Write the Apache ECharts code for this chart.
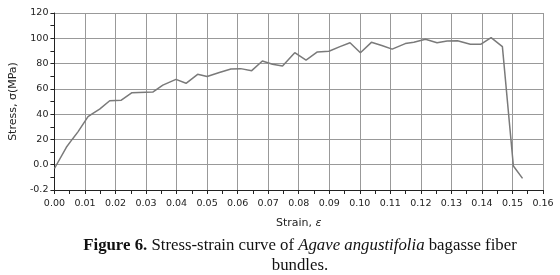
<!DOCTYPE html>
<html>
<head>
<meta charset="utf-8">
<script src="https://cdn.jsdelivr.net/npm/echarts@6/dist/echarts.min.js"></script>
<style>
  html, body { margin: 0; padding: 0; background: #fff; }
  #main { width: 560px; height: 275px; }
</style>
</head>
<body>
<div id="main"></div>
<script>
// strain values (x)
const strain = [
  0.0000, 0.0039, 0.0058, 0.0077, 0.0110, 0.0126, 0.0148, 0.0181, 0.0219, 0.0254,
  0.0322, 0.0355, 0.0398, 0.0431, 0.0469, 0.0500, 0.0540, 0.0578, 0.0610, 0.0646,
  0.0681, 0.0714, 0.0747, 0.0787, 0.0824, 0.0861, 0.0899, 0.0935, 0.0968, 0.1002,
  0.1038, 0.1072, 0.1106, 0.1149, 0.1177, 0.1215, 0.1253, 0.1286, 0.1320, 0.1362,
  0.1397, 0.1430, 0.1467, 0.1503, 0.1533
];
// stress in MPa
const stress = [
  -3, 13.8, 20, 26, 38, 40.6, 44, 50.6, 51, 57,
  57.5, 63, 67.5, 64.4, 71.5, 69.8, 73, 75.7, 76, 74.4,
  82, 79.5, 78, 88.6, 82.8, 89.2, 89.7, 93.4, 96.5, 88.6,
  96.8, 94.3, 91.4, 95.8, 96.8, 99.2, 96.5, 97.8, 98, 95.3,
  95.3, 100.5, 93.4, -1, -10.8
];
// y ticks and the (odd) labels printed in the figure
const yTicks = [-20, 0, 20, 40, 60, 80, 100, 120];
const yTickLabels = ['-0.2', '0.0', '20', '40', '60', '80', '100', '120'];

const tickFont = 'DejaVu Sans';
const capFont = 'Liberation Serif';
let myChart = echarts.init(document.getElementById('main'));

myChart.setOption({
  animation: false,
  title: {
    text: '{b|Figure 6.}{n| Stress-strain curve of }{i|Agave angustifolia}{n| bagasse fiber}\n{n|bundles.}',
    left: 295,
    top: 231,
    textAlign: 'center',
    textStyle: {
      fontWeight: 'normal',
      rich: {
        b: { fontFamily: capFont, fontWeight: 'bold', fontSize: 16.8, color: '#111', lineHeight: 20, align: 'center' },
        n: { fontFamily: capFont, fontWeight: 'normal', fontSize: 16.8, color: '#111', lineHeight: 20, align: 'center' },
        i: { fontFamily: capFont, fontWeight: 'normal', fontStyle: 'italic', fontSize: 16.8, color: '#111', lineHeight: 20, align: 'center' }
      }
    }
  },
  grid: { left: 53, right: 17, top: 13, bottom: 85 },
  xAxis: {
    type: 'value',
    min: 0,
    max: 0.16,
    interval: 0.01,
    name: 'Strain, {i|ε}',
    nameLocation: 'middle',
    nameGap: 28,
    nameTextStyle: {
      fontFamily: tickFont, fontSize: 11, color: '#222',
      rich: { i: { fontFamily: tickFont, fontStyle: 'italic', fontSize: 11, color: '#222' } }
    },
    axisLine: { onZero: false, lineStyle: { color: '#222', width: 1 } },
    axisTick: { length: 4, lineStyle: { color: '#222' } },
    minorTick: { show: true, splitNumber: 2, length: 4, lineStyle: { color: '#222' } },
    axisLabel: {
      fontFamily: tickFont, fontSize: 9.5, color: '#222', margin: 9,
      formatter: v => v.toFixed(2)
    },
    splitLine: { lineStyle: { color: '#999', width: 1 } }
  },
  yAxis: {
    type: 'value',
    min: -20,
    max: 120,
    interval: 20,
    name: 'Stress, σ(MPa)',
    nameLocation: 'middle',
    nameRotate: 90,
    nameGap: 25,
    nameTextStyle: { fontFamily: tickFont, fontSize: 11, color: '#222' },
    axisLine: { show: true, lineStyle: { color: '#222', width: 1 } },
    axisTick: { show: true, length: 4, lineStyle: { color: '#222' } },
    minorTick: { show: true, splitNumber: 2, length: 4, lineStyle: { color: '#222' } },
    axisLabel: {
      fontFamily: tickFont, fontSize: 9.5, color: '#222', margin: 6,
      formatter: v => yTickLabels[yTicks.indexOf(v)]
    },
    splitLine: { lineStyle: { color: '#999', width: 1 } }
  },
  series: [{
    type: 'line',
    data: strain.map((s, i) => [s, stress[i]]),
    showSymbol: false,
    lineStyle: { color: '#7a7a7a', width: 1.5 },
    itemStyle: { color: '#7a7a7a' }
  }]
});
</script>
</body>
</html>
